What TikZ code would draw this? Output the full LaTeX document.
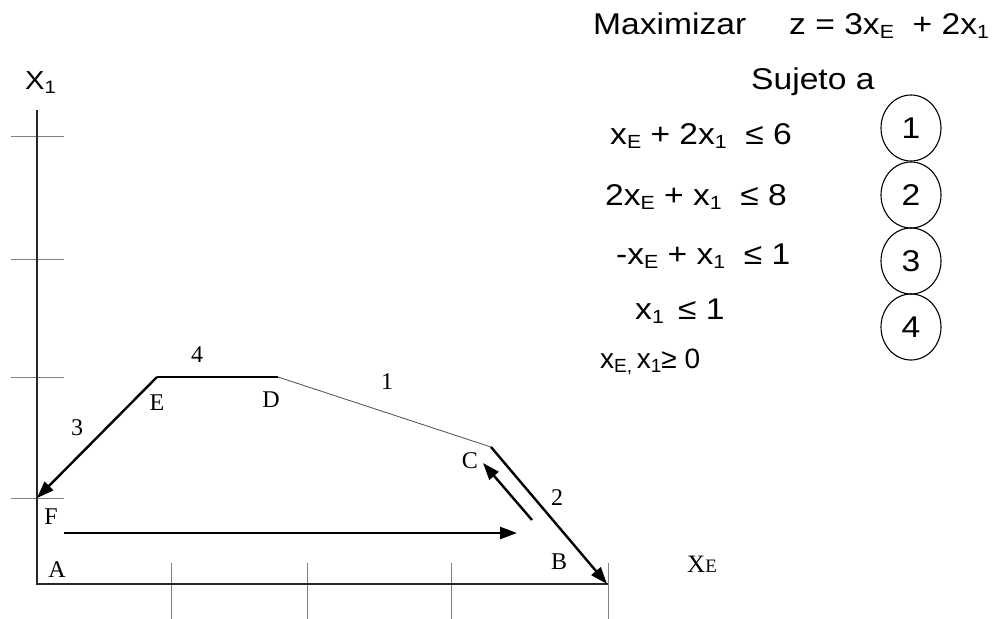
\documentclass[tikz,border=0pt]{standalone}
\usepackage{fontspec}
\setmainfont{Liberation Serif}
\newfontfamily\ars[FakeStretch=1.12]{Liberation Sans}
\newfontfamily\arsn{Liberation Sans}
\usetikzlibrary{arrows.meta,shapes.geometric}
\newcommand\sbE{\raisebox{-4pt}{\fontsize{19}{19}\selectfont E}}
\newcommand\sbO{\raisebox{-4pt}{\fontsize{19}{19}\selectfont 1}}
\newcommand\sbEc{\raisebox{-4pt}{\fontsize{19}{19}\selectfont E,}}
\begin{document}
\begin{tikzpicture}[x=1pt,y=-1pt,
  axisline/.style={line width=1.6pt, black!85},
  tickline/.style={line width=0.9pt, gray},
  edge/.style={line width=2.4pt},
  thinedge/.style={line width=0.8pt, black!70},
  arr/.style={-{Triangle[length=17pt,width=12pt]}},
  lbl/.style={inner sep=0pt, font=\fontsize{24}{28}\selectfont},
  eq/.style={inner sep=0pt, anchor=base west, font=\ars\fontsize{30}{34}\selectfont},
  num/.style={draw, line width=1.1pt, ellipse, minimum width=60pt, minimum height=66pt, inner sep=0pt, font=\ars\fontsize{30}{34}\selectfont}
]
\useasboundingbox (0,0) rectangle (997,619);
% coordinates
\coordinate (A) at (37,584);
\coordinate (B) at (607,584);
\coordinate (C) at (491,447);
\coordinate (D) at (278,377);
\coordinate (E) at (157,377);
\coordinate (F) at (37,498);
\coordinate (ytop) at (37,110);
\coordinate (xend) at (608,584);
\coordinate (h1) at (64,533);
\coordinate (h2) at (517,533);
\coordinate (c1) at (532,520);
\coordinate (c2) at (483,463);
% ticks
\foreach \yy in {136,259,377,498} \draw[tickline] (11,\yy) -- (64,\yy);
\foreach \xx in {171,307,451,608} \draw[tickline] (\xx,563) -- (\xx,619);
% axes
\draw[axisline] (ytop) -- (A) -- (xend);
% polygon
\draw[edge] (E) -- (D);
\draw[thinedge] (D) -- (C);
\draw[edge, arr] (C) -- (B);
\draw[edge, arr] (E) -- (F);
\draw[edge, arr] (h1) -- (h2);
\draw[edge, arr] (c1) -- (c2);
% labels
\node[lbl] (l4) at (197,355) {4};
\node[lbl] (l1) at (387,382) {1};
\node[lbl] (lE) at (157,403) {E};
\node[lbl] (lD) at (271,400) {D};
\node[lbl] (l3) at (77,428) {3};
\node[lbl] (lF) at (51,517) {F};
\node[lbl] (lA) at (57,570) {A};
\node[lbl] (lC) at (470,461) {C};
\node[lbl] (l2) at (557,498) {2};
\node[lbl] (lB) at (559,562) {B};
\node[inner sep=0pt, anchor=base west] (lXE) at (687,572) {\fontsize{25}{28}\selectfont X\fontsize{19}{22}\selectfont E};
\node[inner sep=0pt, anchor=base west, font=\ars\fontsize{26}{30}\selectfont] (lX1) at (25,89) {X\raisebox{-4pt}{\fontsize{18}{18}\selectfont 1}};
% right text
\node[eq] (max) at (593,34) {Maximizar};
\node[eq] (obj) at (789,34) {z = 3x\sbE\ \ + 2x\sbO};
\node[eq] (suj) at (751,89) {Sujeto a};
\node[eq] (r1) at (610,144) {x\sbE\ + 2x\sbO\ \ ≤ 6};
\node[eq] (r2) at (605,205) {2x\sbE\ + x\sbO\ \ ≤ 8};
\node[eq] (r3) at (616,264) {-x\sbE\ + x\sbO\ \ ≤ 1};
\node[eq] (r4) at (635,319) {x\sbO\ \,≤ 1};
\node[eq, font=\arsn\fontsize{28}{32}\selectfont] (r5) at (600,368) {x\sbEc\,x\sbO≥ 0};
% circles
\node[num] (n1) at (911,128) {1};
\node[num] (n2) at (911,195) {2};
\node[num] (n3) at (911,261) {3};
\node[num] (n4) at (911,327) {4};
\end{tikzpicture}
\end{document}
